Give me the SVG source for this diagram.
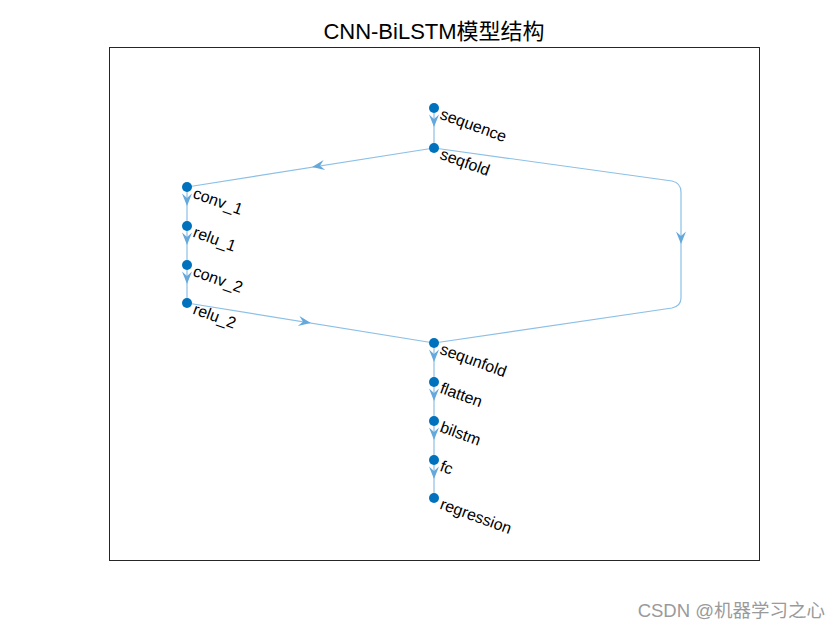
<svg xmlns="http://www.w3.org/2000/svg" width="840" height="630" viewBox="0 0 840 630">
<style>
.edge{fill:none;stroke:#8cc0e6;stroke-width:1.2}
.ah{fill:#64a8dc}
.node{fill:#0072BD}
.lbl{font-family:"Liberation Sans",Arial,sans-serif;font-size:16px;fill:#000}
.title{font-family:"Liberation Sans","Noto Sans CJK SC",sans-serif;font-size:22px;fill:#000}
.wm{font-family:"Liberation Sans","Noto Sans CJK SC",sans-serif;font-size:18.5px;fill:#9a9a9a}
</style>
<defs>
<path id="arr" d="M0,6 L-5,-6.5 L0,-2 L5,-6.5 Z"/>
</defs>
<rect width="840" height="630" fill="#fff"/>
<rect x="109.5" y="47.5" width="650" height="513" fill="#fff" stroke="#262626" stroke-width="1"/>
<text class="title" x="434" y="39" text-anchor="middle">CNN-BiLSTM模型结构</text>
<g id="connectors">
<path class="edge" d="M434,108 L434,148"/>
<path class="edge" d="M434,148 L187,187"/>
<path class="edge" d="M434,148 L672,181 Q681,183 681,192 L681,298 Q681,306 672,308 L434,343"/>
<path class="edge" d="M187,187 L187,303"/>
<path class="edge" d="M187,303 L434,343"/>
<path class="edge" d="M434,343 L434,498"/>
<g class="ah">
<use href="#arr" transform="translate(434,121)"/>
<use href="#arr" transform="translate(318,166) rotate(81)"/>
<use href="#arr" transform="translate(681,238)"/>
<use href="#arr" transform="translate(187,200)"/>
<use href="#arr" transform="translate(187,239)"/>
<use href="#arr" transform="translate(187,278)"/>
<use href="#arr" transform="translate(305,322) rotate(-80.8)"/>
<use href="#arr" transform="translate(434,356)"/>
<use href="#arr" transform="translate(434,395)"/>
<use href="#arr" transform="translate(434,434)"/>
<use href="#arr" transform="translate(434,473)"/>
</g>
</g>
<g id="sequence"><circle class="node" cx="434" cy="108" r="5"/><text class="lbl" transform="translate(442,110) rotate(20)" y="9">sequence</text></g>
<g id="seqfold"><circle class="node" cx="434" cy="148" r="5"/><text class="lbl" transform="translate(442,150) rotate(20)" y="9">seqfold</text></g>
<g id="conv_1"><circle class="node" cx="187" cy="187" r="5"/><text class="lbl" transform="translate(195,189) rotate(20)" y="9">conv_1</text></g>
<g id="relu_1"><circle class="node" cx="187" cy="226" r="5"/><text class="lbl" transform="translate(195,228) rotate(20)" y="9">relu_1</text></g>
<g id="conv_2"><circle class="node" cx="187" cy="265" r="5"/><text class="lbl" transform="translate(195,267) rotate(20)" y="9">conv_2</text></g>
<g id="relu_2"><circle class="node" cx="187" cy="303" r="5"/><text class="lbl" transform="translate(195,305) rotate(20)" y="9">relu_2</text></g>
<g id="sequnfold"><circle class="node" cx="434" cy="343" r="5"/><text class="lbl" transform="translate(442,345) rotate(20)" y="9">sequnfold</text></g>
<g id="flatten"><circle class="node" cx="434" cy="382" r="5"/><text class="lbl" transform="translate(442,384) rotate(20)" y="9">flatten</text></g>
<g id="bilstm"><circle class="node" cx="434" cy="421" r="5"/><text class="lbl" transform="translate(442,423) rotate(20)" y="9">bilstm</text></g>
<g id="fc"><circle class="node" cx="434" cy="460" r="5"/><text class="lbl" transform="translate(442,462) rotate(20)" y="9">fc</text></g>
<g id="regression"><circle class="node" cx="434" cy="498" r="5"/><text class="lbl" transform="translate(442,500) rotate(20)" y="9">regression</text></g>
<text class="wm" x="825" y="617" text-anchor="end">CSDN @机器学习之心</text>
</svg>
